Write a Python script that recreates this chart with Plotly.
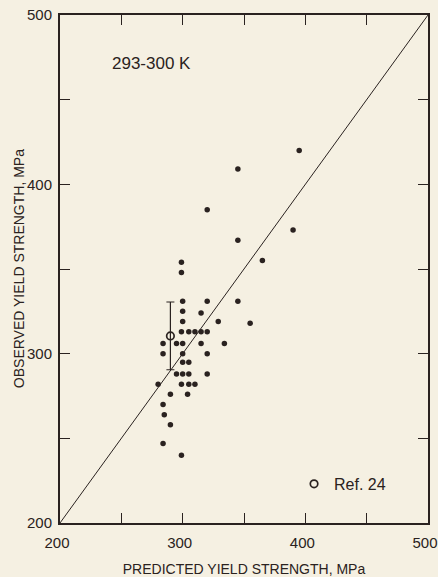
import plotly.graph_objects as go

# Observed vs predicted yield strength (MPa), 293-300 K
predicted = [299, 299, 300, 320, 345, 300, 315, 300, 329, 355,
             299, 305, 310, 315, 320,
             284, 295, 300, 315, 334,
             284, 300, 320,
             300, 305,
             295, 300, 305, 320,
             280, 299, 305, 310,
             290, 304,
             284, 285, 290, 284, 299,
             345, 395, 320, 345, 390, 365]
observed = [354, 348, 331, 331, 331, 325, 324, 319, 319, 318,
            313, 313, 313, 313, 313,
            306, 306, 306, 306, 306,
            300, 300, 300,
            295, 295,
            288, 288, 288, 288,
            282, 282, 282, 282,
            276, 276,
            270, 264, 258, 247, 240,
            409, 420, 385, 367, 373, 355]

ref_pred = [290]
ref_obs = [310.5]
ref_err = [20]

axis_range = [200, 500]
tick_vals = [200, 250, 300, 350, 400, 450, 500]
tick_text = ["200", "", "300", "", "400", "", "500"]

ink = "#2a2220"
bg = "#f5f0e2"
font_family = "Liberation Sans, Arial, sans-serif"

fig = go.Figure()

fig.add_trace(go.Scatter(x=axis_range, y=axis_range, mode="lines",
                         line=dict(color=ink, width=1), showlegend=False,
                         hoverinfo="skip"))

fig.add_trace(go.Scatter(x=predicted, y=observed, mode="markers",
                         marker=dict(color=ink, size=5.5), showlegend=False))

fig.add_trace(go.Scatter(x=ref_pred, y=ref_obs, mode="markers",
                         marker=dict(color=ink, size=1, opacity=0),
                         error_y=dict(type="data", array=ref_err, visible=True,
                                      color=ink, thickness=1.2, width=4),
                         showlegend=False))

fig.add_trace(go.Scatter(x=ref_pred, y=ref_obs, mode="markers", name="Ref. 24",
                         marker=dict(symbol="circle-open", color=ink, size=7.5,
                                     line=dict(width=1.7, color=ink))))

axis_common = dict(range=axis_range, tickvals=tick_vals, ticktext=tick_text,
                   ticks="inside", ticklen=10, tickwidth=1.2, tickcolor=ink,
                   showline=True, linecolor=ink, linewidth=2, mirror="ticks",
                   showgrid=False, zeroline=False, automargin=False,
                   ticklabeloverflow="allow",
                   tickfont=dict(family=font_family, size=15, color=ink))

fig.update_xaxes(**axis_common, ticklabelstandoff=5, ticklabelshift=-3,
                 title=dict(text="PREDICTED YIELD STRENGTH, MPa", standoff=14,
                            font=dict(family=font_family, size=14, color=ink)))
fig.update_yaxes(**axis_common, ticklabelstandoff=3)

fig.add_annotation(text="OBSERVED YIELD STRENGTH, MPa", textangle=-90,
                   x=-0.111, y=0.5, xref="paper", yref="paper",
                   xanchor="center", yanchor="middle", showarrow=False,
                   font=dict(family=font_family, size=14, color=ink))

fig.add_annotation(text="293-300 K", x=0.135, y=0.905, xref="paper", yref="paper",
                   xanchor="left", yanchor="middle", showarrow=False,
                   font=dict(family=font_family, size=17, color=ink))

fig.update_layout(
    width=438, height=577,
    margin=dict(l=60, r=10, t=15, b=54),
    paper_bgcolor=bg, plot_bgcolor=bg,
    legend=dict(x=0.636, y=0.077, xanchor="left", yanchor="middle",
                bgcolor="rgba(0,0,0,0)", itemwidth=30,
                font=dict(family=font_family, size=16, color=ink)),
    font=dict(family=font_family, color=ink),
)

fig.write_html("out.html", config={"displayModeBar": False},
               post_script="document.body.style.margin='0';document.body.style.overflow='hidden';")
